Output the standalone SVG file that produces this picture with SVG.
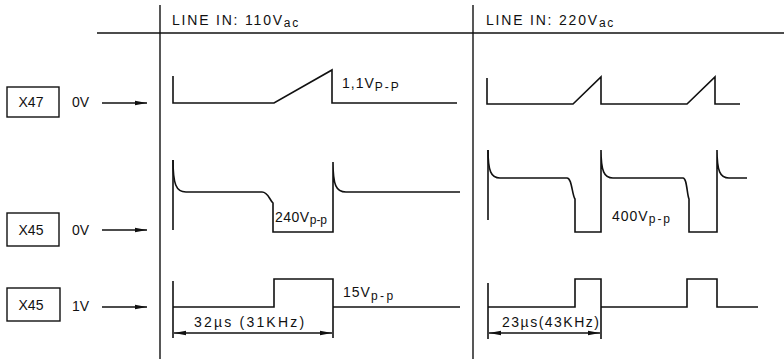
<svg xmlns="http://www.w3.org/2000/svg" width="784" height="359" viewBox="0 0 784 359">
<style>
.ln{fill:none;stroke:#111;stroke-width:1.6;stroke-linejoin:miter}
.frame{fill:none;stroke:#111;stroke-width:1.4}
.box{fill:none;stroke:#111;stroke-width:1.4}
.t{font-family:"Liberation Sans","DejaVu Sans",sans-serif;font-size:14px;fill:#111}
.s{font-size:12px}
.ar{fill:none;stroke:#111;stroke-width:1.4}
</style>
<defs>
<marker id="ah" viewBox="0 0 12 6" refX="12" refY="3" markerWidth="12" markerHeight="6" markerUnits="userSpaceOnUse" orient="auto-start-reverse">
<path d="M0,0.8 L12,3 L0,5.2 z" fill="#111"/>
</marker>
</defs>
<g id="frame">
<line class="frame" x1="97" y1="33" x2="784" y2="33"/>
<line class="frame" x1="160" y1="5" x2="160" y2="359"/>
<line class="frame" x1="473" y1="5" x2="473" y2="359"/>
<text class="t" x="172" y="25" letter-spacing="1.8">LINE IN: 110V<tspan class="s" dy="2">ac</tspan></text>
<text class="t" x="486" y="25" letter-spacing="1.8">LINE IN: 220V<tspan class="s" dy="2">ac</tspan></text>
</g>
<g id="x47">
<rect class="box" x="7" y="87" width="52" height="30"/>
<text class="t" x="31" y="107" text-anchor="middle">X47</text>
<text class="t" x="72" y="107">0V</text>
</g>
<g id="x45a">
<rect class="box" x="7" y="213" width="52" height="33"/>
<text class="t" x="31" y="235" text-anchor="middle">X45</text>
<text class="t" x="72" y="235">0V</text>
</g>
<g id="x45b">
<rect class="box" x="7" y="288" width="53" height="33"/>
<text class="t" x="31" y="310" text-anchor="middle">X45</text>
<text class="t" x="72" y="311">1V</text>
</g>
<g id="connectors">
<line class="ar" x1="102" y1="103" x2="147" y2="103" marker-end="url(#ah)"/>
<line class="ar" x1="102" y1="230" x2="147" y2="230" marker-end="url(#ah)"/>
<line class="ar" x1="102" y1="307" x2="147" y2="307" marker-end="url(#ah)"/>
</g>
<g id="waveforms">
<path class="ln" d="M173,76 L173,103 L274,103 L332,70 L332,103 L457,103"/>
<text class="t" x="342" y="88" letter-spacing="1">1,1V<tspan class="s" dy="3" letter-spacing="2">P-P</tspan></text>
<path class="ln" d="M487,78 L487,104 L573,104 L601,77 L601,104 L687,104 L715,77 L715,104 L740,104"/>

<path class="ln" d="M173,160 L173,230"/>
<path class="ln" d="M173,160 C173,184 176,192 186,192 L262,192 C268,192 269,199 273,203 L273,232 L333,232 L333,162 C333,185 336,192 346,192 L460,192"/>
<text class="t" x="275" y="222" letter-spacing="0.5">240V<tspan class="s" dy="2" letter-spacing="0">p-p</tspan></text>
<path class="ln" d="M488,150 L488,220"/>
<path class="ln" d="M488,150 C488,171 491,178 500,178 L567,178 C572,178 572,195 575,199 L575,232 L601,232 L601,150 C601,171 604,178 613,178 L683,178 C687,178 687,195 689,199 L689,232 L717,232 L717,150 C717,171 720,178 729,178 L747,178"/>
<text class="t" x="612" y="221" letter-spacing="1">400V<tspan class="s" dy="2" letter-spacing="2">p-p</tspan></text>

<path class="ln" d="M173,281 L173,338"/>
<path class="ln" d="M173,307 L274,307 L274,279 L333,279 L333,338"/>
<path class="ln" d="M333,307 L460,307"/>
<text class="t" x="343" y="297" letter-spacing="1">15V<tspan class="s" dy="3" letter-spacing="2.5">p-p</tspan></text>
<line class="ar" x1="174" y1="333" x2="332" y2="333" marker-start="url(#ah)" marker-end="url(#ah)"/>
<text class="t" x="194" y="327" letter-spacing="2.2">32µs (31KHz)</text>

<path class="ln" d="M488,283 L488,339"/>
<path class="ln" d="M488,307 L575,307 L575,279 L601,279 L601,339"/>
<path class="ln" d="M601,307 L687,307 L687,279 L717,279 L717,307 L758,307"/>
<line class="ar" x1="489" y1="333" x2="600" y2="333" marker-start="url(#ah)" marker-end="url(#ah)"/>
<text class="t" x="502" y="327" letter-spacing="1.5">23µs(43KHz)</text>
</g>
</svg>
